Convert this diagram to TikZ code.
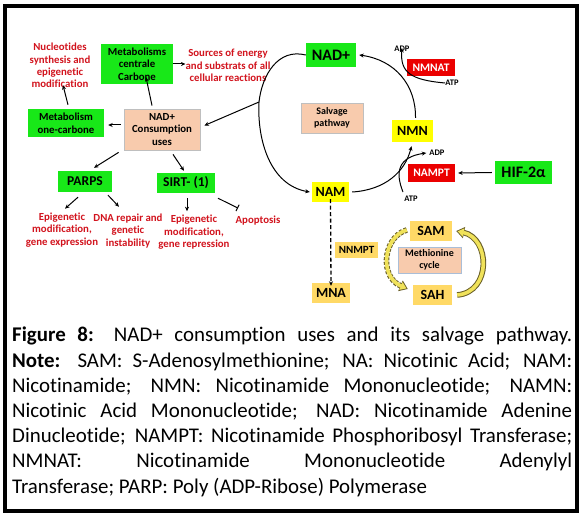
\documentclass[tikz,border=0pt]{standalone}
\usepackage{fontspec}
\setmainfont{Carlito}[Ligatures=NoCommon]
\usetikzlibrary{arrows.meta}
\definecolor{gbox}{RGB}{24,232,24}
\definecolor{ybox}{RGB}{255,255,0}
\definecolor{obox}{RGB}{255,217,102}
\definecolor{pbox}{RGB}{248,203,173}
\definecolor{rbox}{RGB}{235,0,0}
\definecolor{rtxt}{RGB}{210,20,30}
\definecolor{fatfill}{RGB}{240,226,90}
\definecolor{fatline}{RGB}{105,95,40}
\tikzset{
  fs/.style 2 args={font=\fontsize{#1}{#2}\selectfont\bfseries},
  gb/.style={fill=gbox, draw=none},
  yb/.style={fill=ybox, draw=none},
  ob/.style={fill=obox, draw=none},
  pb/.style={fill=pbox, draw=black!25, line width=0.8pt},
  rb/.style={fill=rbox, draw=none, text=white},
  redtxt/.style={text=rtxt, align=center, inner sep=0pt, font=\fontsize{10.8}{12.4}\selectfont\bfseries},
  small/.style={inner sep=0pt, font=\fontsize{8.5}{10}\selectfont\bfseries},
  arr/.style={line width=1pt, -{Stealth[length=4.5pt,width=4pt]}},
  inh/.style={line width=1pt, -{Bar[width=7pt]}},
}
\begin{document}
\begin{tikzpicture}[x=1pt,y=-1pt]
\useasboundingbox (0,0) rectangle (580,518);
\fill[white] (0,0) rectangle (580,518);
\draw[line width=3.2pt] (5,6) rectangle (577,511);

% ---- left part ----
\node[gb, inner sep=0pt, minimum width=72pt, minimum height=40pt, align=center, fs={10.8}{12.6}] (mcc) at (137,64) {Metabolisms\\centrale\\Carbone};
\node[redtxt] (nucl) at (60,65.5) {Nucleotides\\synthesis and\\epigenetic\\modification};
\node[redtxt] (src) at (228,65.5) {Sources of energy\\and substrats of all\\cellular reactions};
\node[gb, inner sep=0pt, minimum width=76pt, minimum height=28pt, align=center, fs={10.8}{12.6}] (mone) at (66,123) {Metabolism\\one-carbone};
\node[pb, inner sep=0pt, minimum width=76pt, minimum height=41pt, align=center, fs={10.8}{12.6}] (nadc) at (162,129.5) {NAD+\\Consumption\\uses};
\node[gb, inner sep=0pt, minimum width=54pt, minimum height=21pt, fs={13.5}{16}] (parps) at (85,181.5) {PARPS};
\node[gb, inner sep=0pt, minimum width=58pt, minimum height=20pt, fs={13.5}{16}] (sirt) at (186,183) {SIRT- (1)};
\node[redtxt] (epi1) at (62,230) {Epigenetic\\modification,\\gene expression};
\node[redtxt] (dna) at (128,231) {DNA repair and\\genetic\\instability};
\node[redtxt] (epi2) at (194,232.5) {Epigenetic\\modification,\\gene repression};
\node[redtxt] (apop) at (258,221) {Apoptosis};

\draw[arr] (mcc.east) -- (src.west |- mcc.east);
\draw[arr] ([shift={(-3,0)}]nadc.west |- 0,125) -- ([shift={(4,0)}]mone.east |- 0,125);
\draw[arr] ([shift={(-10,-3)}]nadc.north) -- ([shift={(9,-7)}]mcc.south);
\draw[arr] ([shift={(2,-4)}]mone.north) -- ([shift={(3,-3)}]nucl.south);
\draw[arr] ([shift={(-5,2)}]nadc.south west) -- ([shift={(9,-3)}]parps.north);
\draw[arr] ([shift={(11,4)}]nadc.south) -- ([shift={(-2,-2)}]sirt.north);
\draw[arr] ([shift={(-7,5)}]parps.south) -- ([shift={(3,-4)}]epi1.north);
\draw[arr] ([shift={(23,3)}]parps.south) -- ([shift={(-9,-7)}]dna.north);
\draw[arr] ([shift={(1,5)}]sirt.south) -- ([shift={(-7,-4)}]epi2.north);
\draw[inh] ([shift={(32,5)}]sirt.south) -- ([shift={(-20,-8)}]apop.north);

% ---- right part ----
\node[gb, inner sep=0pt, minimum width=50pt, minimum height=24pt, fs={16}{19}] (nad) at (331,55) {NAD+};
\node[pb, inner sep=0pt, minimum width=62pt, minimum height=30pt, align=center, fs={10}{12}] (salv) at (332,118) {Salvage\\pathway};
\node[yb, inner sep=0pt, minimum width=41pt, minimum height=22pt, fs={14}{17}] (nmn) at (412.5,131) {NMN};
\node[rb, inner sep=0pt, minimum width=48pt, minimum height=17pt, fs={11.5}{14}] (nmnat) at (431,67.5) {NMNAT};
\node[small] (adp1) at (402,49) {ADP};
\node[small] (atp1) at (452,83) {ATP};
\node[yb, inner sep=0pt, minimum width=37pt, minimum height=20pt, fs={14}{17}] (nam) at (330.5,192) {NAM};
\node[rb, inner sep=0pt, minimum width=47pt, minimum height=18pt, fs={11.5}{14}] (nampt) at (431.5,173) {NAMPT};
\node[gb, inner sep=0pt, minimum width=57pt, minimum height=23pt, fs={16}{19}] (hif) at (523.5,172.5) {HIF-2α};
\node[small] (adp2) at (437,153) {ADP};
\node[small] (atp2) at (411,199) {ATP};
\node[ob, inner sep=0pt, minimum width=38pt, minimum height=20pt, fs={14}{17}] (mna) at (331,293) {MNA};
\node[ob, inner sep=0pt, minimum width=43pt, minimum height=16pt, fs={11}{13}] (nnmpt) at (356.5,250) {NNMPT};
\node[ob, inner sep=0pt, minimum width=42pt, minimum height=20pt, fs={14}{17}] (sam) at (431,231) {SAM};
\node[ob, inner sep=0pt, minimum width=39pt, minimum height=20pt, fs={14}{17}] (sah) at (432.5,295) {SAH};
\node[pb, draw={rgb,255:red,170;green,190;blue,215}, inner sep=0pt, minimum width=63pt, minimum height=26pt, align=center, fs={10}{12}] (meth) at (429.5,260) {Methionine\\cycle};

% big arc NAD+ -> NAM
\coordinate (arcpt) at (259,102);
\draw[line width=1pt] (nad.west) .. controls (278,48) and (262,75) .. (arcpt);
\draw[arr] (arcpt) .. controls (257,140) and (270,185) .. ([xshift=-2]nam.west);
\draw[arr] (arcpt) -- ([shift={(4,-4)}]nadc.east);
% NMN -> NAD+
\draw[arr] ([shift={(3,-2)}]nmn.north) .. controls (416,85) and (395,60) .. ([xshift=3]nad.east);
\draw[arr] (atp1.west) .. controls (410,80) and (400,72) .. ([yshift=4]adp1.south);
% NAM -> NMN
\draw[arr] ([xshift=3]nam.east) .. controls (385,190) and (405,172) .. ([shift={(-1,4)}]nmn.south);
\draw[arr] ([shift={(-8,-4)}]atp2.north) .. controls (395,172) and (398,157) .. ([xshift=-3]adp2.west);
\draw[arr] ([xshift=-3]hif.west) -- ([xshift=3]nampt.east);
% NAM -> MNA dashed
\draw[line width=1.3pt, dash pattern=on 4pt off 2.5pt, -{Stealth[length=4.5pt,width=4pt]}] ([yshift=3]nam.south) -- ([yshift=-3]mna.north);

% methionine cycle fat arrows
\draw[line width=5.6pt, fatline, dash pattern=on 3pt off 1.5pt, -{Triangle[length=8pt,width=11pt]}] ([shift={(-3,-1)}]sam.west) .. controls (384,236) and (378,276) .. ([shift={(-5,-6)}]sah.west);
\draw[line width=3.6pt, fatfill, shorten >=1.5pt, -{Triangle[length=6pt,width=8pt]}] ([shift={(-3,-1)}]sam.west) .. controls (384,236) and (378,276) .. ([shift={(-5,-6)}]sah.west);
\draw[line width=5.6pt, fatline, -{Triangle[length=8pt,width=11pt]}] ([shift={(5,0)}]sah.east) .. controls (492,292) and (490,238) .. ([shift={(4,0)}]sam.east);
\draw[line width=3.6pt, fatfill, shorten >=1.5pt, -{Triangle[length=6pt,width=8pt]}] ([shift={(5,0)}]sah.east) .. controls (492,292) and (490,238) .. ([shift={(4,0)}]sam.east);

% caption
\node[anchor=north west, inner sep=0pt, text width=560pt, align=justify,
      font=\fontsize{20.9}{25.2}\selectfont] (cap) at (12,327)
{\textbf{Figure 8:} NAD+ consumption uses and its salvage pathway.\linebreak
\textbf{Note:} SAM: S-Adenosylmethionine; NA: Nicotinic Acid; NAM:\linebreak
Nicotinamide; NMN: Nicotinamide Mononucleotide; NAMN:\linebreak
Nicotinic Acid Mononucleotide; NAD: Nicotinamide Adenine\linebreak
Dinucleotide; NAMPT: Nicotinamide Phosphoribosyl Transferase;\linebreak
NMNAT: Nicotinamide Mononucleotide Adenylyl\linebreak
Transferase; PARP: Poly (ADP-Ribose) Polymerase\par};
\end{tikzpicture}
\end{document}
